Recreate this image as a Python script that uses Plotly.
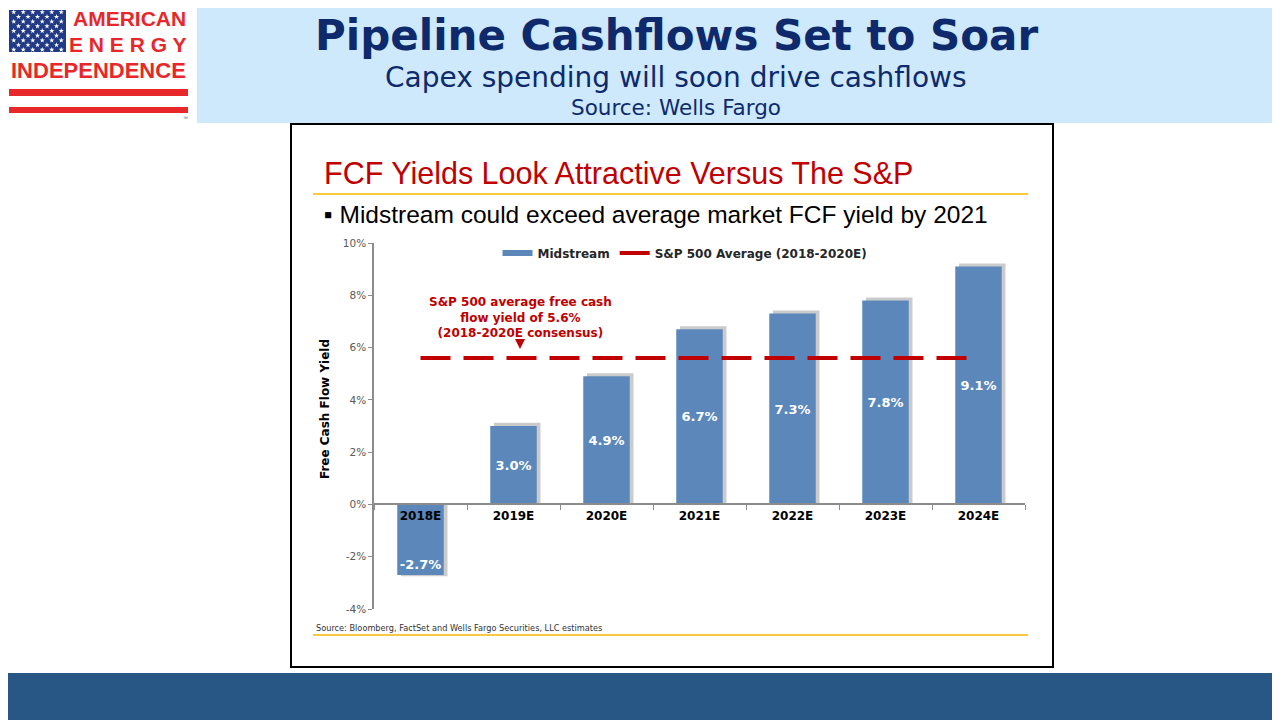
import plotly.graph_objects as go

# Chart data
years = ["2018E", "2019E", "2020E", "2021E", "2022E", "2023E", "2024E"]
midstream_fcf = [-2.7, 3.0, 4.9, 6.7, 7.3, 7.8, 9.1]
sp500_avg = [5.6, 5.6, 5.6, 5.6, 5.6, 5.6, 5.6]
y_ticks = [-4, -2, 0, 2, 4, 6, 8, 10]
y_tick_labels = ["-4%", "-2%", "0%", "2%", "4%", "6%", "8%", "10%"]

W, H = 1280, 720
PAGE_PAD = 8  # the page body offsets the figure by 8px


def px(x):
    return (x - PAGE_PAD) / W


def py(y):
    return 1 - (y - PAGE_PAD) / H


BLUE = "#5b87bb"
RED = "#c00000"
GOLD = "#f7b900"
NAVY = "#0e2a6c"
LOGO_RED = "#e8272a"
CHART_FONT = "DejaVu Sans"

# plot area in screen pixels
y_lo, y_hi = py(609), py(243)
x_lo, x_hi = px(374), px(1025)
zero_pos = y_lo + (y_hi - y_lo) * (0 - y_ticks[0]) / (y_ticks[-1] - y_ticks[0])

fig = go.Figure()

# bar shadow
fig.add_trace(go.Bar(
    x=years,
    y=[v + (0.12 if v > 0 else -0.05) for v in midstream_fcf],
    width=0.5,
    offset=-0.21,
    marker=dict(color="rgba(140,140,140,0.45)", line=dict(width=0)),
    hoverinfo="skip",
    showlegend=False,
))

# midstream bars: positive ones labelled in the middle, negative ones near the end
positive = [v if v >= 0 else None for v in midstream_fcf]
negative = [v if v < 0 else None for v in midstream_fcf]
for vals, anchor in [(positive, "middle"), (negative, "end")]:
    fig.add_trace(go.Bar(
        x=years,
        y=vals,
        width=0.5,
        offset=-0.25,
        marker=dict(color=BLUE, line=dict(width=0)),
        texttemplate="%{y:.1f}%",
        textposition="inside",
        insidetextanchor=anchor,
        textangle=0,
        textfont=dict(family=CHART_FONT, size=13, color="white", weight="bold"),
        name="Midstream",
        showlegend=False,
    ))

# S&P 500 average line
fig.add_trace(go.Scatter(
    x=years,
    y=sp500_avg,
    mode="lines",
    line=dict(color=RED, width=4, dash="30px,13px"),
    name="S&P 500 Average (2018-2020E)",
    showlegend=False,
))

# legend entries
fig.add_trace(go.Scatter(
    x=[None], y=[None], mode="lines",
    line=dict(color=BLUE, width=6),
    name="Midstream",
))
fig.add_trace(go.Scatter(
    x=[None], y=[None], mode="lines",
    line=dict(color=RED, width=4, dash="30px,13px"),
    name="S&P 500 Average (2018-2020E)",
))

# logo stars
star_x, star_y = [], []
for r in range(9):
    cols = [1, 3, 5, 7, 9, 11] if r % 2 == 0 else [2, 4, 6, 8, 10]
    for c in cols:
        star_x.append(c)
        star_y.append(9.5 - r * 1.12)
fig.add_trace(go.Scatter(
    x=star_x, y=star_y, mode="markers",
    marker=dict(symbol="star", size=4, color="white"),
    xaxis="x2", yaxis="y2", showlegend=False, hoverinfo="skip",
))


def rect(x0, x1, y0, y1, **kw):
    return dict(type="rect", xref="paper", yref="paper",
                x0=px(x0), x1=px(x1), y0=py(y1), y1=py(y0), **kw)


shapes = [
    # header band
    rect(197, 1290, 0, 123, fillcolor="#cde9fb", line=dict(width=0), layer="below"),
    # bottom band
    rect(0, 1290, 673, 730, fillcolor="#285786", line=dict(width=0), layer="below"),
    # chart frame
    rect(291, 1053, 124, 667, line=dict(color="black", width=2), layer="below"),
    # gold rules
    dict(type="line", xref="paper", yref="paper", x0=px(313), x1=px(1028), y0=py(635), y1=py(635),
         line=dict(color=GOLD, width=1.5)),
    dict(type="line", xref="paper", yref="paper", x0=px(313), x1=px(1028), y0=py(194), y1=py(194),
         line=dict(color=GOLD, width=1.5)),
    # logo flag
    rect(9, 66, 10, 52, fillcolor="#213a86", line=dict(width=0), layer="below"),
    # logo stripes
    rect(9, 188, 89, 96, fillcolor=LOGO_RED, line=dict(width=0)),
    rect(9, 188, 107, 113, fillcolor=LOGO_RED, line=dict(width=0)),
]


def label(text, x, y, size, color, family="Liberation Sans", xanchor="center", **kw):
    return dict(text=text, x=px(x), y=py(y), xref="paper", yref="paper",
                xanchor=xanchor, yanchor="middle", showarrow=False,
                font=dict(family=family, size=size, color=color), **kw)


annotations = [
    # slide header
    label("<b>Pipeline Cashflows Set to Soar</b>", 676, 36, 42, NAVY, family=CHART_FONT),
    label("Capex spending will soon drive cashflows", 676, 78, 28, NAVY, family=CHART_FONT),
    label("Source: Wells Fargo", 676, 108, 21.5, NAVY, family=CHART_FONT),
    # logo text
    label("<b>AMERICAN</b>", 188, 19, 21, LOGO_RED, xanchor="right"),
    label("<b>E N E R G Y</b>", 188, 44, 21, LOGO_RED, xanchor="right"),
    label("<b>INDEPENDENCE</b>", 98, 70, 22, LOGO_RED),
    label("™", 185, 118, 5, "#555555"),
    # embedded chart header
    label("FCF Yields Look Attractive Versus The S&P", 322, 173, 30.5, RED, xanchor="left"),
    label("▪ Midstream could exceed average market FCF yield by 2021", 322, 214, 24.5, "black",
          xanchor="left"),
    label("Source: Bloomberg, FactSet and Wells Fargo Securities, LLC estimates", 314, 628, 8.2,
          "#333333", family=CHART_FONT, xanchor="left"),
    # y axis title
    label("<b>Free Cash Flow Yield</b>", 325, 409, 12, "black", family=CHART_FONT, textangle=-90),
    # S&P callout
    dict(text="<b>S&P 500 average free cash<br>flow yield of 5.6%<br>(2018-2020E consensus)</b>",
         x=1.07, y=7.15, xref="x", yref="y", xanchor="center", yanchor="middle", showarrow=False,
         font=dict(family=CHART_FONT, size=12, color=RED)),
    dict(text="", x=1.07, y=5.95, xref="x", yref="y", showarrow=True, ax=0, ay=-9,
         arrowhead=2, arrowsize=1, arrowwidth=2, arrowcolor=RED),
]

fig.update_layout(
    width=W,
    height=H,
    autosize=False,
    margin=dict(l=0, r=0, t=0, b=0, pad=0, autoexpand=False),
    paper_bgcolor="white",
    plot_bgcolor="rgba(0,0,0,0)",
    barmode="overlay",
    uniformtext=dict(minsize=13, mode="show"),
    showlegend=True,
    legend=dict(
        orientation="h",
        x=px(685), y=py(253), xanchor="center", yanchor="middle",
        font=dict(family=CHART_FONT, size=12, color="#262626", weight="bold"),
        bgcolor="rgba(0,0,0,0)",
        itemwidth=30,
    ),
    xaxis=dict(
        type="category",
        domain=[x_lo, x_hi],
        range=[-0.5, 6.5],
        anchor="free",
        position=zero_pos,
        automargin=False,
        showline=True,
        linecolor="#8c8c8c",
        linewidth=1.5,
        ticks="outside",
        tickson="boundaries",
        ticklen=5,
        tickcolor="#8c8c8c",
        tickfont=dict(family=CHART_FONT, size=12, color="black", weight="bold"),
        showgrid=False,
        zeroline=False,
    ),
    yaxis=dict(
        domain=[y_lo, y_hi],
        range=[y_ticks[0], y_ticks[-1]],
        automargin=False,
        tickvals=y_ticks,
        ticktext=y_tick_labels,
        showline=True,
        linecolor="#8c8c8c",
        linewidth=1.5,
        ticks="outside",
        ticklen=4,
        tickcolor="#8c8c8c",
        tickfont=dict(family=CHART_FONT, size=10.5, color="#595959"),
        showgrid=False,
        zeroline=False,
    ),
    xaxis2=dict(domain=[px(9), px(66)], range=[0, 12], anchor="y2", visible=False,
                automargin=False, fixedrange=True),
    yaxis2=dict(domain=[py(52), py(10)], range=[0, 10], anchor="x2", visible=False,
                automargin=False, fixedrange=True),
    shapes=shapes,
    annotations=annotations,
)

fig.write_html("out.html")
